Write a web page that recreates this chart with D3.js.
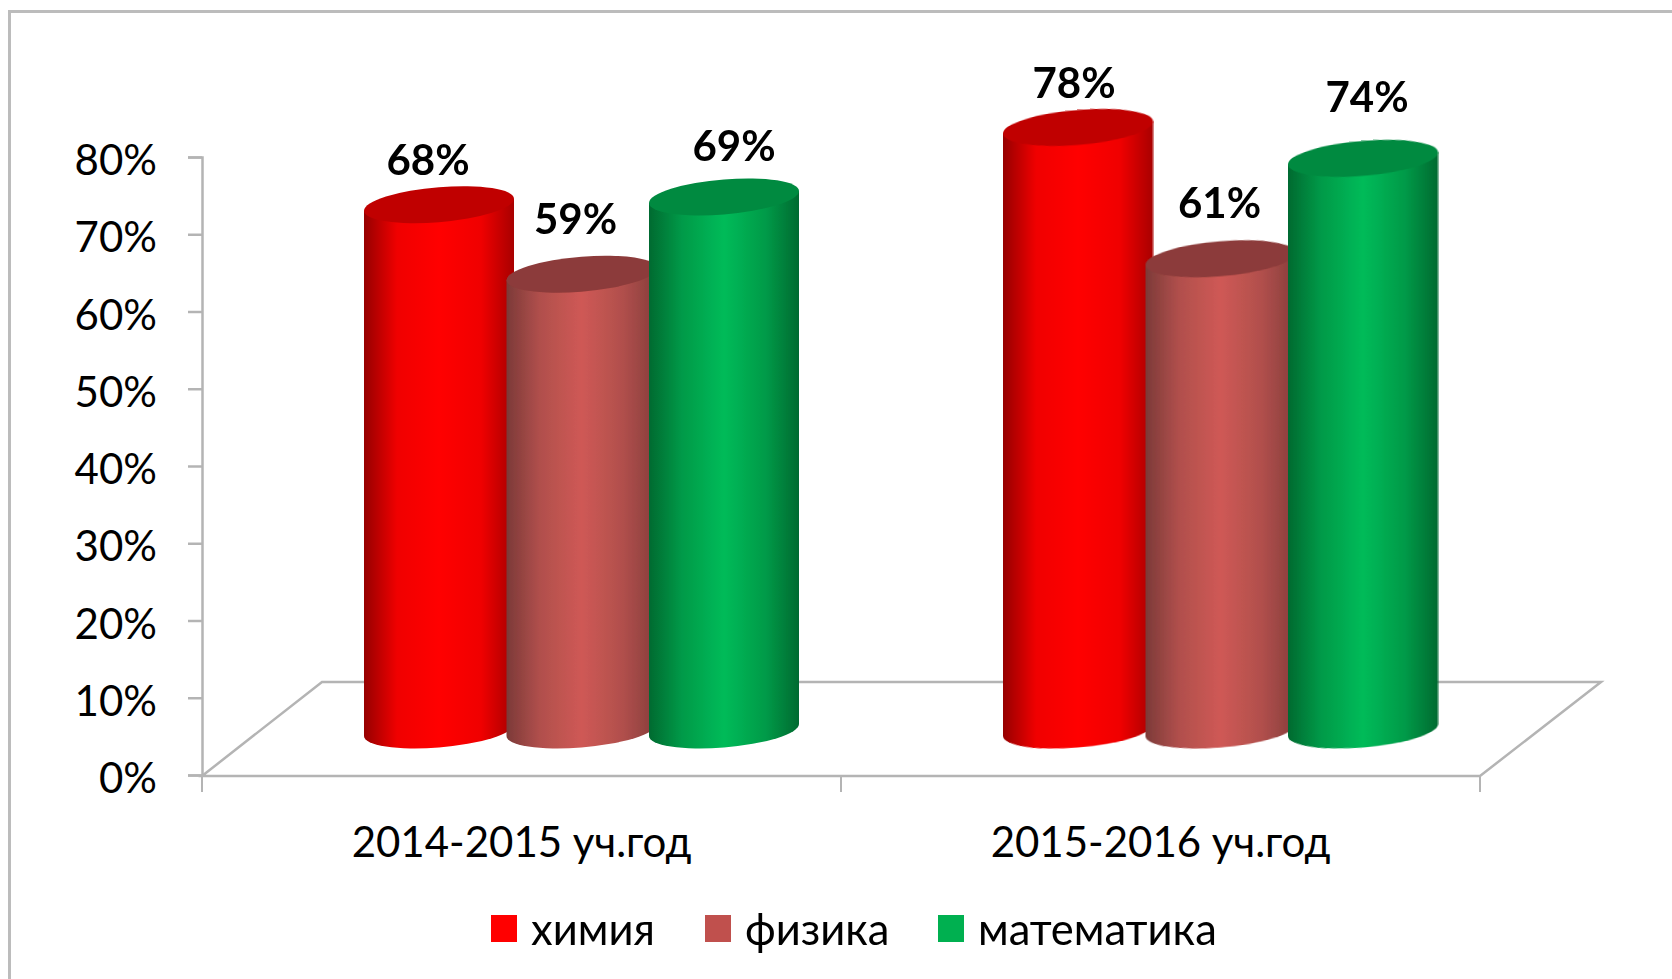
<!DOCTYPE html>
<html>
<head>
<meta charset="utf-8">
<script src="https://cdn.jsdelivr.net/npm/d3@7"></script>
<style>
	html, body { margin: 0; padding: 0; background: #fff; overflow: hidden; }
	text { font-family: Lato, "Noto Sans", sans-serif; fill: #000; }
</style>
</head>
<body>
<div id="chart"></div>
<script>
const categories = ['2014-2015 уч.год', '2015-2016 уч.год'];
const seriesNames = ['химия', 'физика', 'математика'];
const chemistry = [0.68, 0.78];
const physics = [0.59, 0.61];
const maths = [0.69, 0.74];
const yTicks = [0, 0.1, 0.2, 0.3, 0.4, 0.5, 0.6, 0.7, 0.8];

const seriesValues = [chemistry, physics, maths];

// цвета: край, середина, крышка
const colors = [
	{ legend: '#ff0000', edgeL: '#960000', edgeR: '#a80000', side: '#f00000', mid: '#ff0000', cap: '#c00000' },
	{ legend: '#c0504d', edgeL: '#7c3a38', edgeR: '#873d3b', side: '#b04f4c', mid: '#cf5955', cap: '#8c3b3a' },
	{ legend: '#00b050', edgeL: '#006a30', edgeR: '#006a30', side: '#009a48', mid: '#00bb59', cap: '#008a40' }
];

// подписи в оригинале сдвинуты вручную
const labelNudge = [
	[[-11, -30], [-6, -40], [10, -36]],
	[[-4, -29], [-1, -41], [4, -46]]
];

const width = 1672;
const height = 979;
const svg = d3.select('#chart').append('svg')
	.attr('width', width)
	.attr('height', height);

const defs = svg.append('defs');
colors.forEach((c, i) => {
	const g = defs.append('linearGradient').attr('id', 'cyl' + i);
	[[0, c.edgeL], [0.22, c.side], [0.5, c.mid], [0.78, c.side], [1, c.edgeR]].forEach(s => {
		g.append('stop').attr('offset', s[0]).attr('stop-color', s[1]);
	});
});
defs.append('filter').attr('id', 'soft')
	.append('feGaussianBlur').attr('stdDeviation', 0.6);

// ===== рамка =====
svg.append('path')
	.attr('d', `M9.5,${height} V11.5 H${width}`)
	.attr('fill', 'none')
	.attr('stroke', '#bcbcbc')
	.attr('stroke-width', 3);

// ===== шкалы =====
const floorLeft = 202, floorRight = 1480, floorY = 776;
const depthX = 120, depthY = 94;
const y = d3.scaleLinear().domain([0, 0.8]).range([775, 157]);
const x0 = d3.scaleBand().domain(categories).range([floorLeft, floorRight]);
const x1 = d3.scalePoint().domain(seriesNames).range([-142.5, 142.5]);

const rx = 75, ry = 17.5, tilt = -0.08;
const baseShift = 45;

// ===== пол =====
const axisColor = '#b4b4b4';
svg.append('path')
	.attr('d', `M${floorLeft},${floorY} L${floorLeft + depthX},${floorY - depthY} H${floorRight + depthX + 1} L${floorRight},${floorY} Z`)
	.attr('fill', 'none')
	.attr('stroke', axisColor)
	.attr('stroke-width', 2.5);

// ===== оси =====
const yAxis = svg.append('g')
	.attr('transform', `translate(${floorLeft},0)`)
	.call(d3.axisLeft(y).tickValues(yTicks).tickFormat(d3.format('.0%')).tickSize(14).tickPadding(31));
yAxis.selectAll('line, path').attr('stroke', axisColor).attr('stroke-width', 2.5);
yAxis.selectAll('text').attr('font-size', 42).attr('dy', '0.42em');

const boundaries = [x0.range()[0], x0.range()[0] + x0.step(), x0.range()[1]];
svg.append('g').selectAll('line')
	.data(boundaries)
	.join('line')
	.attr('x1', d => d).attr('x2', d => d)
	.attr('y1', floorY).attr('y2', floorY + 16)
	.attr('stroke', axisColor)
	.attr('stroke-width', 2);

const xAxis = svg.append('g')
	.attr('transform', `translate(0,${floorY})`)
	.call(d3.axisBottom(x0).tickSize(0).tickPadding(53));
xAxis.select('.domain').remove();
xAxis.selectAll('text').attr('font-size', 42).attr('dy', 0).attr('y', 81);

// ===== цилиндры =====
const marks = svg.append('g').attr('filter', 'url(#soft)');
categories.forEach((cat, ci) => {
	seriesNames.forEach((name, si) => {
		const v = seriesValues[si][ci];
		const cx = x0(cat) + x0.bandwidth() / 2 + x1(name) + depthX / 2;
		const cyTop = y(v) - baseShift;
		const h = y(0) - y(v);
		const g = marks.append('g')
			.attr('transform', `translate(${cx},${cyTop}) matrix(1,${tilt},0,1,0,0)`);
		g.append('path')
			.attr('d', `M${-rx},0 V${h} A${rx},${ry} 0 0 0 ${rx},${h} V0 Z`)
			.attr('fill', `url(#cyl${si})`);
		g.append('ellipse')
			.attr('rx', rx)
			.attr('ry', ry)
			.attr('fill', colors[si].cap);
	});
});

// ===== подписи значений =====
categories.forEach((cat, ci) => {
	seriesNames.forEach((name, si) => {
		const v = seriesValues[si][ci];
		const cx = x0(cat) + x0.bandwidth() / 2 + x1(name) + depthX / 2;
		const n = labelNudge[ci][si];
		svg.append('text')
			.attr('x', cx + n[0])
			.attr('y', y(v) - baseShift + n[1])
			.attr('text-anchor', 'middle')
			.attr('font-size', 42)
			.attr('font-weight', 'bold')
			.text(d3.format('.0%')(v));
	});
});

// ===== легенда =====
const legendX = [491, 705, 938];
const legend = svg.append('g');
seriesNames.forEach((name, i) => {
	legend.append('rect')
		.attr('x', legendX[i]).attr('y', 915)
		.attr('width', 26).attr('height', 27)
		.attr('fill', colors[i].legend);
	legend.append('text')
		.attr('x', legendX[i] + 40)
		.attr('y', 945)
		.attr('font-size', 43.5)
		.text(name);
});
</script>
</body>
</html>
